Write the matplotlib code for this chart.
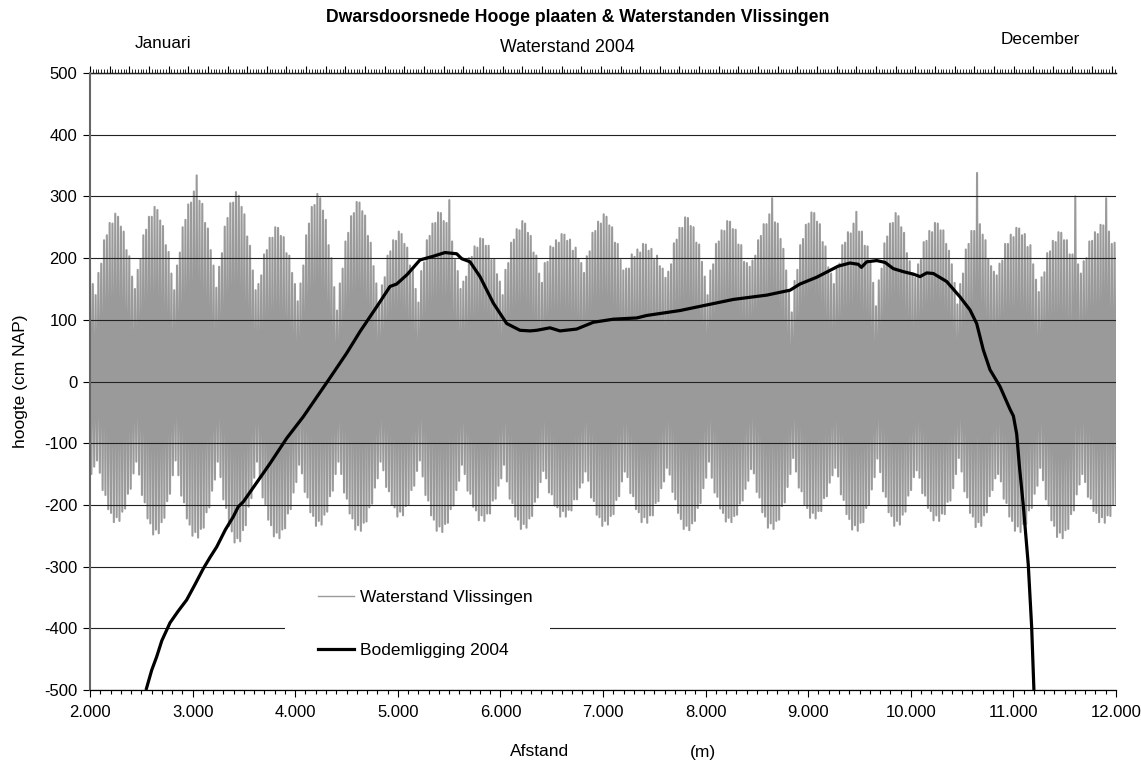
import numpy as np
import matplotlib
matplotlib.use('Agg')
import matplotlib.pyplot as plt
from matplotlib.ticker import MultipleLocator, FuncFormatter
from matplotlib.lines import Line2D
from matplotlib.patches import Rectangle

plt.rcParams['font.family'] = ['Liberation Sans', 'DejaVu Sans']
plt.rcParams['axes.unicode_minus'] = False

# ---- Bodemligging 2004 (cross-section) ----
afstand = [2546, 2601, 2650, 2700, 2747, 2780, 2860, 2942, 3020, 3105, 3170, 3235,
           3320, 3397, 3445, 3494, 3620, 3754, 3917, 4079, 4323, 4502, 4632, 4794,
           4924, 4989, 5089, 5216, 5346, 5460, 5574, 5623, 5704, 5801, 5931, 6061,
           6191, 6289, 6354, 6483, 6581, 6743, 6906, 7101, 7329, 7426, 7750, 8270,
           8596, 8823, 8920, 9083, 9293, 9407, 9487, 9519, 9570, 9668, 9749, 9829,
           9927, 10025, 10090, 10155, 10220, 10350, 10480, 10577, 10642, 10707,
           10772, 10869, 10967, 11000, 11032, 11060, 11096, 11145, 11178, 11200]
bodem = [-500, -468, -446, -420, -403, -391, -372, -354, -330, -303, -285, -268,
         -240, -219, -203, -195, -165, -133, -92, -57, 2, 46, 81, 121,
         154, 158, 173, 197, 203, 209, 207, 199, 194, 170, 127, 94,
         83, 82, 83, 87, 82, 85, 96, 101, 103, 107, 115, 133,
         140, 148, 158, 169, 187, 192, 190, 185, 194, 196, 193, 183,
         178, 174, 170, 176, 175, 162, 137, 116, 94, 51,
         19, -8, -45, -56, -85, -140, -200, -297, -398, -500]

# ---- Waterstand Vlissingen 2004: daily high waters and low waters (cm NAP) ----
hoogwater = [
    180, 158, 140,
    176, 191, 229, 237, 257, 256, 272, 267, 251, 243, 213, 203, 170, 150,
    181, 198, 237, 246, 267, 267, 283, 278, 261, 252, 221, 210, 175, 148,
    188, 209, 250, 262, 287, 290, 308, 334, 293, 288, 257, 248, 213, 188, 152,
    186, 208, 251, 265, 289, 290, 307, 301, 283, 271, 235, 220, 180, 148,
    158, 172, 206, 213, 233, 233, 250, 249, 236, 234, 208, 204, 176, 158, 130,
    159, 188, 237, 256, 283, 286, 304, 297, 277, 262, 221, 200, 153, 115,
    159, 183, 227, 241, 268, 273, 291, 290, 276, 269, 236, 225, 187, 159, 125,
    156, 169, 204, 211, 229, 228, 243, 239, 223, 217, 188, 181, 150, 128,
    179, 193, 229, 236, 256, 257, 274, 273, 260, 257, 294, 227, 197, 179, 150,
    162, 170, 200, 202, 219, 217, 232, 231, 220, 220, 197, 198, 174, 162, 140,
    181, 192, 225, 230, 247, 245, 260, 256, 241, 236, 209, 204, 175, 160,
    192, 194, 219, 217, 229, 225, 239, 238, 228, 230, 212, 217, 198, 192, 176,
    203, 211, 241, 244, 259, 256, 271, 267, 253, 250, 225, 223, 197, 180,
    183, 183, 206, 202, 214, 209, 223, 222, 212, 215, 197, 204, 187, 183, 168,
    178, 190, 224, 230, 249, 249, 266, 265, 252, 250, 225, 222, 194, 170, 140,
    180, 190, 223, 227, 245, 244, 260, 259, 247, 246, 222, 221, 194, 192, 186,
    196, 204, 229, 236, 255, 255, 271, 297, 258, 256, 231, 215, 180, 145, 112,
    163, 181, 221, 231, 254, 256, 274, 273, 259, 255, 226, 219, 185, 175, 158,
    182, 191, 221, 225, 242, 240, 256, 275, 243, 243, 220, 219, 195, 160, 122,
    164, 183, 224, 235, 256, 257, 273, 268, 250, 241, 208, 195, 175, 168,
    190, 197, 226, 228, 244, 242, 257, 256, 245, 245, 223, 212, 190, 160, 125,
    158, 175, 214, 223, 244, 244, 338, 255, 238, 229, 198, 187, 178, 172,
    191, 196, 223, 223, 238, 234, 249, 248, 237, 239, 218, 221, 190, 165, 145,
    169, 177, 208, 211, 228, 226, 242, 241, 229, 229, 206, 206, 300, 190, 175,
    195, 200, 227, 228, 242, 239, 254, 253, 297, 243, 223, 225]
laagwater = [
    -150, -138, -128,
    -148, -176, -184, -207, -213, -228, -220, -226, -211, -206, -182, -174, -149, -130,
    -151, -184, -196, -222, -230, -248, -240, -246, -228, -221, -194, -182, -152, -128,
    -152, -185, -196, -222, -232, -250, -244, -253, -239, -237, -212, -204, -177, -159, -130,
    -155, -191, -205, -234, -243, -261, -254, -259, -241, -233, -203, -189, -156, -130,
    -156, -188, -199, -224, -233, -251, -245, -254, -240, -238, -214, -207, -180, -163, -135,
    -149, -179, -188, -212, -218, -234, -226, -232, -216, -211, -186, -177, -150, -130,
    -150, -180, -190, -214, -222, -240, -233, -242, -229, -227, -204, -198, -172, -157, -130,
    -144, -171, -178, -200, -204, -219, -211, -217, -202, -199, -176, -169, -145, -128,
    -154, -184, -193, -217, -224, -242, -235, -244, -231, -229, -207, -201, -176, -161, -135,
    -150, -177, -182, -203, -209, -225, -217, -226, -214, -214, -193, -190, -169, -157, -135,
    -162, -190, -197, -219, -224, -239, -231, -237, -222, -218, -195, -188, -163, -145,
    -157, -180, -183, -201, -204, -219, -210, -219, -208, -209, -191, -191, -172, -164, -146,
    -161, -188, -194, -216, -220, -234, -226, -232, -218, -215, -192, -186, -162, -146,
    -155, -181, -186, -207, -212, -228, -220, -229, -217, -217, -197, -194, -173, -162, -140,
    -151, -179, -191, -213, -223, -239, -234, -241, -230, -226, -205, -197, -173, -156, -130,
    -156, -180, -187, -206, -213, -227, -221, -228, -218, -216, -198, -193, -174, -161, -142,
    -149, -179, -188, -212, -219, -237, -230, -239, -226, -224, -202, -196, -171, -150, -124,
    -146, -172, -178, -199, -205, -221, -213, -222, -210, -210, -189, -186, -164, -152, -140,
    -154, -183, -192, -215, -223, -240, -233, -242, -229, -228, -205, -200, -175, -155, -125,
    -147, -178, -187, -212, -218, -234, -226, -232, -216, -211, -185, -176, -155, -144,
    -156, -181, -185, -205, -210, -225, -217, -226, -214, -215, -195, -193, -173, -150, -124,
    -146, -178, -188, -213, -219, -236, -228, -234, -217, -212, -186, -176, -157, -150,
    -162, -190, -197, -219, -226, -242, -235, -244, -231, -231, -209, -205, -182, -169, -140,
    -160, -191, -201, -225, -234, -252, -245, -254, -241, -239, -215, -209, -183, -167, -150,
    -163, -187, -190, -210, -213, -228, -220, -229, -217, -218, -200, -198]

y_ticks = [-500, -400, -300, -200, -100, 0, 100, 200, 300, 400, 500]
x_ticks = [2000, 3000, 4000, 5000, 6000, 7000, 8000, 9000, 10000, 11000, 12000]

n = min(len(hoogwater), len(laagwater))
water = np.empty(2 * n)
water[0::2] = hoogwater[:n]
water[1::2] = laagwater[:n]

fig = plt.figure(figsize=(11.41, 7.6), dpi=100)
L, R, B, T = 90 / 1141, 1116 / 1141, 70 / 760, (760 - 73) / 760
ax = fig.add_axes([L, B, R - L, T - B])
axw = ax.twiny()

# water level series on the secondary (time) axis
axw.plot(np.arange(2 * n), water, color='#9a9a9a', lw=1.5)
axw.set_xlim(0, 2 * n - 1)

ax.set_zorder(axw.get_zorder() + 1)
ax.patch.set_visible(False)

ax.plot(afstand, bodem, color='black', lw=2.3, zorder=5, solid_capstyle='butt')
ax.set_xlim(2000, 12000)
ax.set_ylim(-500, 500)
ax.set_xticks(x_ticks)
ax.set_yticks(y_ticks)
ax.xaxis.set_minor_locator(MultipleLocator(100))
ax.xaxis.set_major_formatter(FuncFormatter(lambda v, p: f'{int(v):,}'.replace(',', '.')))
ax.yaxis.grid(True, color='#222222', lw=0.8)
ax.tick_params(axis='y', which='major', direction='out', length=5, width=0.8,
               labelsize=12, pad=4)
ax.tick_params(axis='x', which='major', direction='out', length=5, width=0.8,
               labelsize=12, pad=6)
ax.tick_params(axis='x', which='minor', direction='out', length=3, width=0.8)
for s in ['right', 'top']:
    ax.spines[s].set_visible(False)
ax.spines['left'].set_color('#666666')
ax.spines['left'].set_linewidth(1.5)
ax.spines['bottom'].set_linewidth(0.9)

axw.set_ylim(-500, 500)
for s in ['right', 'left', 'bottom']:
    axw.spines[s].set_visible(False)
axw.spines['top'].set_linewidth(1.0)
axw.xaxis.set_major_locator(MultipleLocator(14))
axw.xaxis.set_minor_locator(MultipleLocator(2))
axw.tick_params(axis='x', which='major', direction='out', length=5, width=0.8, labeltop=False)
axw.tick_params(axis='x', which='minor', direction='out', length=3, width=0.6)
axw.tick_params(axis='y', left=False, right=False, labelleft=False, labelright=False)

fig.text(540 / 1141, 1 - 752 / 760, 'Afstand', ha='center', va='center', fontsize=12.5)
fig.text(703 / 1141, 1 - 752 / 760, '(m)', ha='center', va='center', fontsize=12.5)
ax.set_ylabel('hoogte (cm NAP)', fontsize=12.5)
ax.yaxis.set_label_coords(-0.06, 0.5)

fig.text(578 / 1141, 1 - 18 / 760, 'Dwarsdoorsnede Hooge plaaten & Waterstanden Vlissingen',
         ha='center', va='center', fontsize=12.7, fontweight='bold')
fig.text(163 / 1141, 1 - 43 / 760, 'Januari', ha='center', va='center', fontsize=12.3)
fig.text(1040 / 1141, 1 - 40 / 760, 'December', ha='center', va='center', fontsize=12.3)
fig.text(567 / 1141, 1 - 48 / 760, 'Waterstand 2004', ha='center', va='center', fontsize=12.8)

# white legend area (hides the -400 gridline as in the original)
ax.add_patch(Rectangle(((285 - 90) / 1026, (690 - 674) / 617), (550 - 285) / 1026,
                       (674 - 576) / 617, transform=ax.transAxes, facecolor='white',
                       edgecolor='none', zorder=3))
handles = [Line2D([], [], color='#9a9a9a', lw=1.0),
           Line2D([], [], color='black', lw=2.3)]
leg = ax.legend(handles, ['Waterstand Vlissingen', 'Bodemligging 2004'],
                loc='center', bbox_to_anchor=((425 - 90) / 1026, (690 - 624) / 617),
                frameon=False, fontsize=12.5, handlelength=2.1, handletextpad=0.3,
                labelspacing=2.2, borderpad=0.3)
leg.set_zorder(6)

fig.savefig('out.png', dpi=100)
